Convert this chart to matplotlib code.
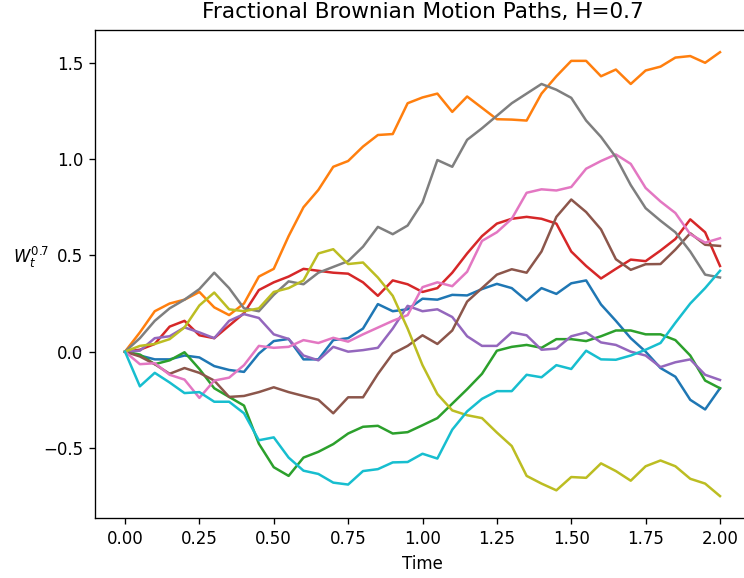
import numpy as np
import matplotlib
matplotlib.use("Agg")
import matplotlib.pyplot as plt

t = np.round(np.arange(0, 2.0001, 0.05), 2)

blue = [0, -0.02, -0.04, -0.04, -0.02, -0.03, -0.075, -0.095, -0.105, -0.01, 0.055,
        0.066, -0.04, -0.04, 0.06, 0.07, 0.12, 0.247, 0.21, 0.22, 0.275,
        0.27, 0.295, 0.292, 0.325, 0.352, 0.33, 0.265, 0.33, 0.30, 0.355,
        0.37, 0.245, 0.16, 0.07, 0.0, -0.085, -0.13, -0.25, -0.30, -0.19]
orange = [0, 0.10, 0.21, 0.25, 0.27, 0.31, 0.23, 0.19, 0.25, 0.39, 0.43,
          0.60, 0.75, 0.84, 0.96, 0.99, 1.065, 1.125, 1.13, 1.29, 1.32,
          1.34, 1.245, 1.325, 1.266, 1.207, 1.205, 1.20, 1.34, 1.43, 1.51,
          1.51, 1.43, 1.465, 1.39, 1.46, 1.48, 1.527, 1.535, 1.50, 1.555]
green = [0, -0.015, -0.065, -0.045, -0.003, -0.09, -0.19, -0.235, -0.28, -0.478, -0.60,
         -0.645, -0.55, -0.52, -0.48, -0.425, -0.39, -0.385, -0.425, -0.418, -0.382,
         -0.345, -0.27, -0.195, -0.115, 0.005, 0.025, 0.035, 0.02, 0.065, 0.065,
         0.055, 0.08, 0.11, 0.11, 0.09, 0.09, 0.06, -0.02, -0.15, -0.19]
red = [0, 0.01, 0.04, 0.13, 0.16, 0.085, 0.07, 0.135, 0.20, 0.32, 0.36,
       0.39, 0.43, 0.42, 0.41, 0.405, 0.36, 0.29, 0.37, 0.35, 0.31,
       0.33, 0.41, 0.51, 0.60, 0.665, 0.69, 0.70, 0.69, 0.665, 0.52,
       0.445, 0.38, 0.43, 0.478, 0.47, 0.525, 0.585, 0.687, 0.62, 0.445]
purple = [0, 0.005, 0.07, 0.08, 0.126, 0.10, 0.07, 0.16, 0.195, 0.175, 0.09,
          0.066, -0.02, -0.045, 0.025, 0.0, 0.008, 0.02, 0.12, 0.238, 0.21,
          0.22, 0.18, 0.08, 0.03, 0.03, 0.10, 0.085, 0.01, 0.016, 0.08,
          0.10, 0.048, 0.035, 0.0, -0.02, -0.08, -0.055, -0.04, -0.12, -0.147]
brown = [0, -0.025, -0.065, -0.115, -0.085, -0.11, -0.15, -0.235, -0.23, -0.21, -0.185,
         -0.21, -0.23, -0.25, -0.32, -0.237, -0.237, -0.116, -0.01, 0.03, 0.085,
         0.04, 0.11, 0.26, 0.33, 0.40, 0.428, 0.41, 0.52, 0.70, 0.79,
         0.725, 0.635, 0.48, 0.425, 0.454, 0.455, 0.53, 0.615, 0.555, 0.549]
pink = [0, -0.065, -0.06, -0.12, -0.145, -0.24, -0.15, -0.135, -0.07, 0.03, 0.02,
        0.025, 0.06, 0.045, 0.072, 0.052, 0.09, 0.125, 0.16, 0.19, 0.335,
        0.36, 0.34, 0.415, 0.575, 0.62, 0.69, 0.825, 0.843, 0.837, 0.855,
        0.95, 0.99, 1.024, 0.975, 0.85, 0.78, 0.72, 0.61, 0.566, 0.589]
gray = [0, 0.07, 0.16, 0.225, 0.27, 0.325, 0.41, 0.33, 0.225, 0.21, 0.295,
        0.365, 0.35, 0.41, 0.44, 0.47, 0.545, 0.648, 0.61, 0.655, 0.775,
        0.995, 0.96, 1.10, 1.16, 1.225, 1.29, 1.34, 1.39, 1.36, 1.318,
        1.20, 1.115, 1.01, 0.865, 0.745, 0.68, 0.62, 0.52, 0.40, 0.385]
olive = [0, 0.03, 0.04, 0.065, 0.126, 0.24, 0.307, 0.22, 0.21, 0.225, 0.31,
         0.33, 0.37, 0.51, 0.532, 0.455, 0.463, 0.385, 0.29, 0.12, -0.07,
         -0.22, -0.305, -0.33, -0.345, -0.42, -0.49, -0.645, -0.685, -0.72, -0.651,
         -0.655, -0.58, -0.62, -0.67, -0.595, -0.565, -0.595, -0.66, -0.685, -0.75]
cyan = [0, -0.18, -0.11, -0.16, -0.215, -0.21, -0.26, -0.26, -0.32, -0.46, -0.445,
        -0.55, -0.618, -0.635, -0.68, -0.69, -0.62, -0.61, -0.575, -0.573, -0.53,
        -0.555, -0.405, -0.31, -0.245, -0.205, -0.205, -0.12, -0.133, -0.07, -0.09,
        0.005, -0.04, -0.042, -0.02, 0.01, 0.045, 0.15, 0.25, 0.33, 0.42]

paths = [blue, orange, green, red, purple, brown, pink, gray, olive, cyan]

W, H, DPI = 744, 578, 120
fig = plt.figure(figsize=(W / DPI, H / DPI), dpi=DPI)
ax = fig.add_axes([95.25 / W, (H - 518.3) / H, 654.5 / W, 488.3 / H])
for p in paths:
    ax.plot(t, p, linewidth=1.5)
ax.set_title("Fractional Brownian Motion Paths, H=0.7", fontsize=13, pad=7)
ax.set_xlabel("Time")
ax.set_ylabel(r"$W_t^{0.7}$", rotation=0, ha="center", va="center")
ax.yaxis.set_label_coords(-0.098, 0.535)
fig.savefig("out.png", dpi=DPI)
